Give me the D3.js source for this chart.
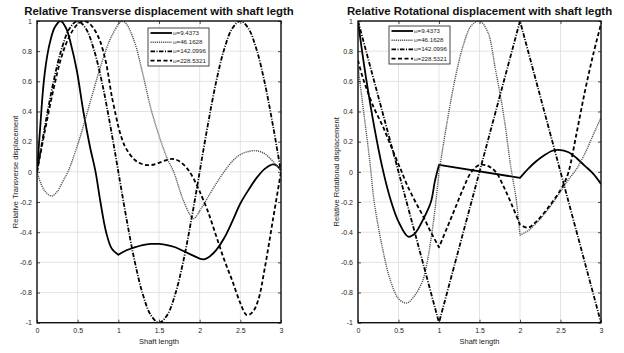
<!DOCTYPE html>
<html>
<head>
<meta charset="utf-8">
<script src="https://cdn.jsdelivr.net/npm/d3@7"></script>
<style>
  body { margin: 0; background: #fff; }
  svg { display: block; font-family: "Liberation Sans", Arial, sans-serif; }
</style>
</head>
<body>
<div id="chart"></div>
<script>
// ticks and labels
const xTicks = [0, 0.5, 1, 1.5, 2, 2.5, 3];
const yTicks = [-1, -0.8, -0.6, -0.4, -0.2, 0, 0.2, 0.4, 0.6, 0.8, 1];
const omegas = ["9.4373", "46.1628", "142.0996", "228.5321"];
const segmentBreaks = [1, 2];

// transverse mode shapes [x, y]
const trans9 = [[0,0],[0.04,0.3],[0.08,0.58],[0.12,0.75],[0.16,0.86],[0.22,0.96],[0.29,1],[0.36,0.95],[0.42,0.84],[0.49,0.67],[0.57,0.4],[0.65,0.17],[0.72,0],[0.78,-0.2],[0.85,-0.4],[0.92,-0.51],[1,-0.55],
  [1.1,-0.52],[1.2,-0.5],[1.3,-0.485],[1.4,-0.478],[1.5,-0.478],[1.6,-0.485],[1.7,-0.5],[1.8,-0.525],[1.9,-0.55],[2,-0.575],
  [2.05,-0.58],[2.1,-0.57],[2.2,-0.52],[2.3,-0.44],[2.4,-0.33],[2.5,-0.21],[2.6,-0.12],[2.7,-0.04],[2.8,0.02],[2.9,0.05],[2.95,0.04],[3,0.01]];
const trans46 = [[0,0],[0.05,-0.08],[0.1,-0.13],[0.18,-0.16],[0.25,-0.13],[0.32,-0.06],[0.38,0],[0.5,0.18],[0.6,0.36],[0.7,0.55],[0.8,0.73],[0.9,0.88],[1,0.98],
  [1.05,1],[1.1,0.98],[1.2,0.86],[1.3,0.65],[1.4,0.42],[1.5,0.24],[1.6,0.09],[1.68,0],[1.8,-0.19],[1.9,-0.3],[1.93,-0.31],[2,-0.26],
  [2.1,-0.17],[2.2,-0.08],[2.3,0],[2.4,0.07],[2.5,0.115],[2.6,0.135],[2.7,0.14],[2.8,0.12],[2.9,0.07],[3,0.01]];
const trans142 = [[0,0],[0.1,0.31],[0.2,0.59],[0.3,0.81],[0.4,0.95],[0.5,1],[0.6,0.95],[0.7,0.81],[0.8,0.59],[0.9,0.31],[1,0],
  [1.1,-0.31],[1.2,-0.59],[1.3,-0.81],[1.4,-0.95],[1.5,-1],[1.6,-0.95],[1.7,-0.81],[1.8,-0.59],[1.9,-0.31],[2,0],
  [2.1,0.31],[2.2,0.59],[2.3,0.81],[2.4,0.95],[2.5,1],[2.6,0.95],[2.7,0.81],[2.8,0.59],[2.9,0.31],[3,0]];
const trans228 = [[0,0],[0.1,0.28],[0.2,0.54],[0.3,0.76],[0.4,0.9],[0.5,0.98],[0.58,1],[0.65,0.98],[0.72,0.93],[0.78,0.86],[0.85,0.72],[0.92,0.5],[1,0.3],
  [1.08,0.17],[1.2,0.08],[1.3,0.05],[1.4,0.045],[1.5,0.06],[1.6,0.08],[1.68,0.085],[1.75,0.07],[1.85,0.02],[1.93,-0.05],[2,-0.13],
  [2.1,-0.26],[2.2,-0.42],[2.3,-0.58],[2.4,-0.72],[2.5,-0.87],[2.58,-0.95],[2.65,-0.93],[2.72,-0.85],[2.8,-0.64],[2.9,-0.32],[3,0]];

// rotational mode shapes [x, y]
const rot9 = [[0,1],[0.05,0.8],[0.1,0.62],[0.2,0.3],[0.3,0.03],[0.4,-0.18],[0.5,-0.33],[0.62,-0.43],[0.7,-0.41],[0.8,-0.32],[0.9,-0.2],[0.95,-0.06],[1,0.046],
  [2,-0.04],
  [2.1,0.02],[2.2,0.07],[2.3,0.11],[2.4,0.14],[2.48,0.146],[2.6,0.13],[2.7,0.09],[2.8,0.04],[2.9,-0.01],[3,-0.08]];
const rot46 = [[0,0.7],[0.05,0.48],[0.1,0.27],[0.15,0.05],[0.2,-0.2],[0.3,-0.5],[0.4,-0.72],[0.5,-0.84],[0.6,-0.87],[0.7,-0.82],[0.8,-0.72],[0.85,-0.61],[0.9,-0.45],[0.95,-0.25],[1,0],
  [1.1,0.33],[1.2,0.62],[1.3,0.84],[1.4,0.97],[1.5,1],[1.6,0.93],[1.7,0.67],[1.8,0.37],[1.89,0.02],[1.95,-0.17],[2,-0.42],
  [2.1,-0.39],[2.2,-0.34],[2.3,-0.28],[2.4,-0.21],[2.5,-0.13],[2.6,-0.05],[2.7,0.02],[2.8,0.12],[2.9,0.24],[3,0.36]];
const rot142 = [[0,1],[1,-1],[2,1],[3,-1]];
const rot228 = [[0,0.74],[0.05,0.64],[0.1,0.56],[0.2,0.42],[0.3,0.31],[0.4,0.18],[0.5,0.05],[0.54,0],[0.6,-0.08],[0.7,-0.19],[0.8,-0.29],[0.9,-0.4],[1,-0.5],
  [1.1,-0.37],[1.2,-0.24],[1.3,-0.11],[1.4,0],[1.5,0.046],[1.6,0.04],[1.7,0],[1.8,-0.1],[1.9,-0.22],[2,-0.35],
  [2.1,-0.37],[2.2,-0.33],[2.3,-0.27],[2.4,-0.2],[2.5,-0.12],[2.55,-0.07],[2.6,0],[2.7,0.26],[2.8,0.53],[2.9,0.77],[3,0.98]];

const width = 624, height = 353;
const plotTop = 21, plotBottom = 322.7;

// line styles, same order as omegas
const styles = [
  { dash: null,            w: 1.8, color: "#000" },
  { dash: "1.2,0.9",       w: 1.4, color: "#555" },
  { dash: "4.5,1.5,1,1.5", w: 1.8, color: "#000" },
  { dash: "4,2.5",         w: 1.8, color: "#000" }
];

const panels = [
  { left: 37, right: 281, title: "Relative Transverse displacement with shaft legth",
    ylabel: "Relative Transverse displacement", series: [trans9, trans46, trans142, trans228],
    legend: { x: 148, y: 28, w: 61, h: 38 } },
  { left: 358, right: 601, title: "Relative Rotational displacement with shaft legth",
    ylabel: "Relative Rotational displacement", series: [rot9, rot46, rot142, rot228],
    legend: { x: 389, y: 26, w: 61, h: 38 } }
];

const svg = d3.select("#chart").append("svg")
  .attr("width", width)
  .attr("height", height);

panels.forEach((p, pi) => {
  const x = d3.scaleLinear().domain([0, 3]).range([p.left, p.right]);
  const y = d3.scaleLinear().domain([-1, 1]).range([plotBottom, plotTop]);
  const g = svg.append("g");

  // grid
  g.append("g").selectAll("line").data(xTicks).join("line")
    .attr("x1", d => x(d)).attr("x2", d => x(d))
    .attr("y1", plotTop).attr("y2", plotBottom)
    .attr("stroke", "#dcdcdc").attr("stroke-width", 0.8);
  g.append("g").selectAll("line").data(yTicks).join("line")
    .attr("x1", p.left).attr("x2", p.right)
    .attr("y1", d => y(d)).attr("y2", d => y(d))
    .attr("stroke", "#dcdcdc").attr("stroke-width", 0.8);

  // curves, clipped to the axes box
  const clipId = "clip" + pi;
  svg.append("clipPath").attr("id", clipId)
    .append("rect").attr("x", p.left).attr("y", plotTop)
    .attr("width", p.right - p.left).attr("height", plotBottom - plotTop);

  const line = d3.line().x(d => x(d[0])).y(d => y(d[1]))
    .curve(d3.curveCatmullRom.alpha(0.5));
  const bounds = [0, ...segmentBreaks, 3];

  // one path per series, smooth inside each shaft segment, kinks allowed at the joints
  const pathFor = pts => {
    let d = "";
    for (let i = 0; i < bounds.length - 1; i++) {
      const seg = pts.filter(q => q[0] >= bounds[i] && q[0] <= bounds[i + 1]);
      if (seg.length < 2) continue;
      const s = line(seg);
      d += d ? s.replace(/^M/, "L") : s;
    }
    return d;
  };

  const cg = g.append("g").attr("clip-path", `url(#${clipId})`);
  p.series.forEach((pts, i) => {
    cg.append("path")
      .attr("d", pathFor(pts))
      .attr("fill", "none")
      .attr("stroke", styles[i].color)
      .attr("stroke-width", styles[i].w)
      .attr("stroke-dasharray", styles[i].dash)
      .attr("stroke-linejoin", "round");
  });

  // axes, MATLAB-style ticks inside on all four sides
  const fmt = d => String(d);
  const axB = g.append("g").attr("transform", `translate(0,${plotBottom})`)
    .call(d3.axisBottom(x).tickValues(xTicks).tickFormat(fmt).tickSizeInner(-3).tickSizeOuter(0).tickPadding(5));
  const axL = g.append("g").attr("transform", `translate(${p.left},0)`)
    .call(d3.axisLeft(y).tickValues(yTicks).tickFormat(fmt).tickSizeInner(-3).tickSizeOuter(0).tickPadding(5));
  const axT = g.append("g").attr("transform", `translate(0,${plotTop})`)
    .call(d3.axisTop(x).tickValues(xTicks).tickFormat("").tickSizeInner(-3).tickSizeOuter(0));
  const axR = g.append("g").attr("transform", `translate(${p.right},0)`)
    .call(d3.axisRight(y).tickValues(yTicks).tickFormat("").tickSizeInner(-3).tickSizeOuter(0));
  [axB, axL, axT, axR].forEach(a => {
    a.select(".domain").remove();
    a.selectAll(".tick line").attr("stroke", "#222").attr("stroke-width", 0.8);
    a.selectAll("text").attr("font-size", 7).attr("fill", "#222")
      .attr("font-family", "Liberation Sans, Arial, sans-serif");
  });

  // box
  g.append("rect")
    .attr("x", p.left).attr("y", plotTop)
    .attr("width", p.right - p.left).attr("height", plotBottom - plotTop)
    .attr("fill", "none").attr("stroke", "#111").attr("stroke-width", 1.4);

  // title and labels
  g.append("text")
    .attr("x", (p.left + p.right) / 2).attr("y", 14.5)
    .attr("text-anchor", "middle")
    .attr("font-size", 11.4).attr("font-weight", "bold").attr("fill", "#111")
    .text(p.title);
  g.append("text")
    .attr("x", (p.left + p.right) / 2).attr("y", 344)
    .attr("text-anchor", "middle")
    .attr("font-size", 7.5).attr("fill", "#222")
    .text("Shaft length");
  g.append("text")
    .attr("transform", `translate(${p.left - 19},${(plotTop + plotBottom) / 2}) rotate(-90)`)
    .attr("text-anchor", "middle")
    .attr("font-size", 7.5).attr("fill", "#222")
    .text(p.ylabel);

  // legend
  const L = p.legend;
  const lg = g.append("g");
  lg.append("rect")
    .attr("x", L.x).attr("y", L.y).attr("width", L.w).attr("height", L.h)
    .attr("fill", "#fff").attr("stroke", "#333").attr("stroke-width", 0.9);
  omegas.forEach((om, i) => {
    const ry = L.y + 5 + i * 9.2;
    lg.append("line")
      .attr("x1", L.x + 2.5).attr("x2", L.x + 24)
      .attr("y1", ry).attr("y2", ry)
      .attr("stroke", styles[i].color)
      .attr("stroke-width", styles[i].w)
      .attr("stroke-dasharray", styles[i].dash);
    const t = lg.append("text")
      .attr("x", L.x + 25).attr("y", ry + 2)
      .attr("font-size", 6.2).attr("fill", "#222");
    t.append("tspan").attr("font-size", 4.5).text("ω");
    t.append("tspan").text("=" + om);
  });
});
</script>
</body>
</html>
